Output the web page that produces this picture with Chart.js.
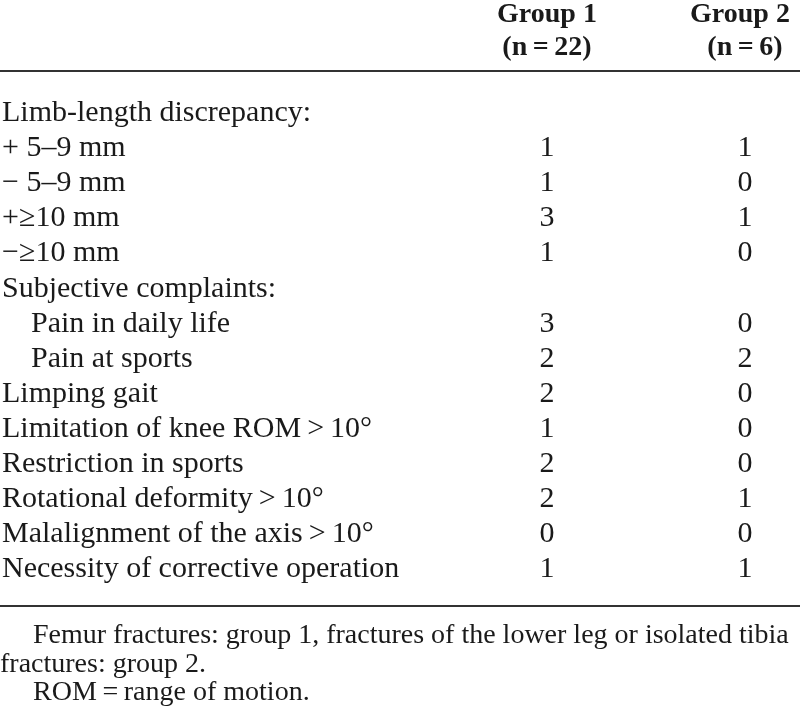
<!DOCTYPE html>
<html>
<head>
<meta charset="utf-8">
<script src="https://cdn.jsdelivr.net/npm/chart.js@4"></script>
<style>
  html, body { margin: 0; padding: 0; background: #fff; }
  #wrap { width: 800px; height: 706px; }
</style>
</head>
<body>
<div id="wrap"><canvas id="table"></canvas></div>
<script>
// table content
const groupNames = ["Group 1", "Group 2"];
const groupSizes = [22, 6];
const rowLabels = [
    "Limb-length discrepancy:",
    "+ 5\u20139 mm",
    "\u2212 5\u20139 mm",
    "+\u226510 mm",
    "\u2212\u226510 mm",
    "Subjective complaints:",
    "Pain in daily life",
    "Pain at sports",
    "Limping gait",
    "Limitation of knee ROM\u2009>\u200910\u00b0",
    "Restriction in sports",
    "Rotational deformity\u2009>\u200910\u00b0",
    "Malalignment of the axis\u2009>\u200910\u00b0",
    "Necessity of corrective operation",
];
const subRows = [6, 7];
const group1 = [null, 1, 1, 3, 1, null, 3, 2, 2, 1, 2, 2, 0, 1];
const group2 = [null, 1, 0, 1, 0, null, 0, 2, 0, 0, 0, 1, 0, 1];
const footnotes = [
    "Femur fractures: group 1, fractures of the lower leg or isolated tibia",
    "fractures: group 2.",
    "ROM\u2009=\u2009range of motion.",
];

// layout in scale units (one row = one unit)
const ROW_PX = 35.1;
const TOP_PX = 121;
const FONT = "30px 'Liberation Serif'";
const NOTE_FONT = "28px 'Liberation Serif'";
const BOLD = "bold 28px 'Liberation Serif'";
const INK = "#1a1a1a";

function points(values, col) {
    return values
        .map((v, i) => (v === null ? null : { x: col, y: i, v: v }))
        .filter(Boolean);
}

const tableText = {
    id: "tableText",
    afterDatasetsDraw(chart) {
        const ctx = chart.ctx;
        const xs = chart.scales.x;
        const ys = chart.scales.y;
        ctx.save();
        ctx.fillStyle = INK;
        ctx.textBaseline = "alphabetic";

        // header
        ctx.font = BOLD;
        ctx.textAlign = "center";
        groupNames.forEach((name, g) => {
            const x = xs.getPixelForValue(g + 1);
            ctx.fillText(name, x - g * 5, ys.getPixelForValue(-2.82));
            ctx.fillText("(n\u2009=\u2009" + groupSizes[g] + ")", x, ys.getPixelForValue(-1.88));
        });

        // rules
        ctx.strokeStyle = "#333";
        ctx.lineWidth = 2;
        [-1.425, 13.82].forEach((v) => {
            const y = Math.round(ys.getPixelForValue(v));
            ctx.beginPath();
            ctx.moveTo(0, y);
            ctx.lineTo(800, y);
            ctx.stroke();
        });

        // row labels
        ctx.font = FONT;
        ctx.textAlign = "left";
        rowLabels.forEach((label, i) => {
            const x = subRows.includes(i) ? 31 : 2;
            ctx.fillText(label, x, ys.getPixelForValue(i));
        });

        // cell values, placed at the points' positions
        ctx.textAlign = "center";
        chart.data.datasets.forEach((ds, d) => {
            const meta = chart.getDatasetMeta(d);
            meta.data.forEach((el, j) => {
                ctx.fillText(String(ds.data[j].v), el.x, el.y);
            });
        });

        // footnotes
        ctx.font = NOTE_FONT;
        ctx.textAlign = "left";
        const noteRows = [14.87, 15.7, 16.5];
        footnotes.forEach((note, k) => {
            const x = k === 1 ? 0 : 33;
            ctx.fillText(note, x, ys.getPixelForValue(noteRows[k]));
        });
        ctx.restore();
    },
};

const yMin = -TOP_PX / ROW_PX;
const yMax = yMin + 706 / ROW_PX;
const xUnit = 198;
const xMin = 1 - 547 / xUnit;
const xMax = xMin + 800 / xUnit;

new Chart(document.getElementById("table"), {
    type: "scatter",
    data: {
        datasets: [
            { label: groupNames[0], data: points(group1, 1), pointRadius: 0 },
            { label: groupNames[1], data: points(group2, 2), pointRadius: 0 },
        ],
    },
    options: {
        responsive: true,
        maintainAspectRatio: false,
        animation: false,
        layout: { padding: 0 },
        plugins: { legend: { display: false }, tooltip: { enabled: false } },
        scales: {
            x: { type: "linear", display: false, min: xMin, max: xMax },
            y: { type: "linear", display: false, reverse: true, min: yMin, max: yMax },
        },
    },
    plugins: [tableText],
});
</script>
</body>
</html>
